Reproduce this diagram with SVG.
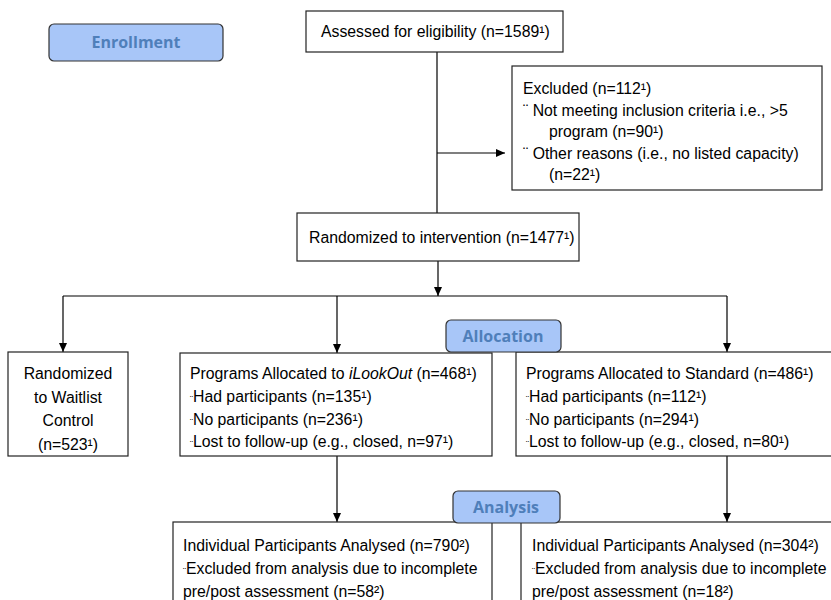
<svg xmlns="http://www.w3.org/2000/svg" width="831" height="600" viewBox="0 0 831 600">
<defs>
<marker id="ah" markerWidth="10" markerHeight="10" refX="9" refY="4" orient="auto" markerUnits="userSpaceOnUse">
<path d="M0,0 L9,4 L0,8 Z" fill="#000"/>
</marker>
<style>
.box{fill:#fff;stroke:#222;stroke-width:1.2}
.t{font-family:"Liberation Sans",Arial,sans-serif;font-size:15.8px;fill:#000}
.c{text-anchor:middle}
.b{font-size:9px}
.stage{fill:#a8c6f8;stroke:#333;stroke-width:1.2}
.st{font-family:"Open Sans","Liberation Sans",sans-serif;font-size:16px;font-weight:bold;fill:#4f7fba;text-anchor:middle}
.ln{fill:none;stroke:#000;stroke-width:1.2}
</style>
</defs>
<rect width="831" height="600" fill="#fff"/>
<g id="connectors">
<path class="ln" d="M437,52 V213"/>
<path class="ln" d="M437,153 H505" marker-end="url(#ah)"/>
<path class="ln" d="M438,261 V296" marker-end="url(#ah)"/>
<path class="ln" d="M63,296 H727"/>
<path class="ln" d="M63,296 V352" marker-end="url(#ah)"/>
<path class="ln" d="M337,296 V353" marker-end="url(#ah)"/>
<path class="ln" d="M727,296 V352" marker-end="url(#ah)"/>
<path class="ln" d="M337,456 V522" marker-end="url(#ah)"/>
<path class="ln" d="M727,456 V522" stroke="#666" marker-end="url(#ah)"/>
</g>
<g id="enrollment"><rect class="stage" x="49" y="24" width="174" height="37" rx="5"/><text class="st" x="136" y="48">Enrollment</text></g>
<g id="assessed"><rect class="box" x="306" y="11" width="257" height="41"/><text class="t" x="321" y="37">Assessed for eligibility (n=1589¹)</text></g>
<g id="excluded"><rect class="box" x="512" y="66" width="310" height="124"/>
<text class="t" x="523" y="94">Excluded (n=112¹)</text>
<text class="t" x="523" y="116">¨ Not meeting inclusion criteria i.e., &gt;5</text>
<text class="t" x="549" y="137">program (n=90¹)</text>
<text class="t" x="523" y="159">¨ Other reasons (i.e., no listed capacity)</text>
<text class="t" x="549" y="180">(n=22¹)</text>
</g>
<g id="randomized"><rect class="box" x="297" y="213" width="282" height="48"/><text class="t" x="309" y="243">Randomized to intervention (n=1477¹)</text></g>
<g id="waitlist"><rect class="box" x="8" y="352" width="120" height="104"/>
<text class="t c" x="68" y="379">Randomized</text>
<text class="t c" x="68" y="403">to Waitlist</text>
<text class="t c" x="68" y="426">Control</text>
<text class="t c" x="68" y="450">(n=523¹)</text>
</g>
<g id="ilookout"><rect class="box" x="180" y="353" width="312" height="103"/>
<text class="t" x="190" y="379">Programs Allocated to <tspan font-style="italic">iLookOut</tspan> (n=468¹)</text>
<text class="t" x="190" y="402"><tspan class="b">¨</tspan>Had participants (n=135¹)</text>
<text class="t" x="190" y="425"><tspan class="b">¨</tspan>No participants (n=236¹)</text>
<text class="t" x="190" y="447"><tspan class="b">¨</tspan>Lost to follow-up (e.g., closed, n=97¹)</text>
</g>
<g id="standard"><rect class="box" x="516" y="352" width="330" height="104"/>
<text class="t" x="526" y="379">Programs Allocated to Standard (n=486¹)</text>
<text class="t" x="526" y="402"><tspan class="b">¨</tspan>Had participants (n=112¹)</text>
<text class="t" x="526" y="425"><tspan class="b">¨</tspan>No participants (n=294¹)</text>
<text class="t" x="526" y="447"><tspan class="b">¨</tspan>Lost to follow-up (e.g., closed, n=80¹)</text>
</g>
<g id="allocation"><rect class="stage" x="446" y="320" width="115" height="32" rx="5"/><text class="st" x="503" y="342">Allocation</text></g>
<g id="analysed-ilookout"><rect class="box" x="173" y="522" width="319" height="100"/>
<text class="t" x="183" y="551">Individual Participants Analysed (n=790²)</text>
<text class="t" x="183" y="574"> <tspan class="b">¨</tspan>Excluded from analysis due to incomplete</text>
<text class="t" x="183" y="597">pre/post assessment (n=58²)</text>
</g>
<g id="analysed-standard"><rect class="box" x="521" y="522" width="330" height="100"/>
<text class="t" x="532" y="551">Individual Participants Analysed (n=304²)</text>
<text class="t" x="532" y="574"> <tspan class="b">¨</tspan>Excluded from analysis due to incomplete</text>
<text class="t" x="532" y="597">pre/post assessment (n=18²)</text>
</g>
<g id="analysis"><rect class="stage" x="453" y="491" width="107" height="32" rx="5"/><text class="st" x="506" y="513">Analysis</text></g>
</svg>
